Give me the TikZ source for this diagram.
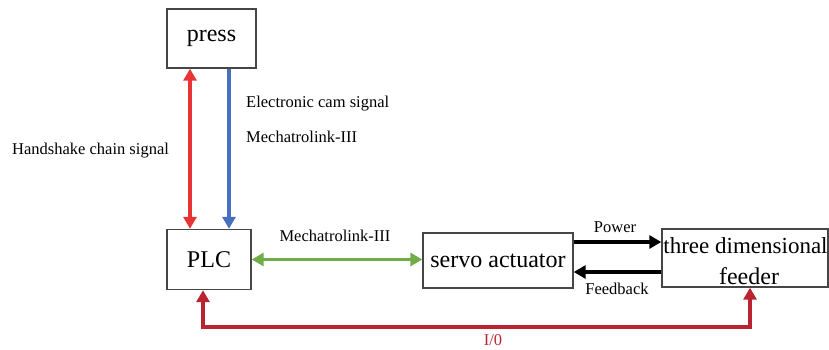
\documentclass[tikz,border=0pt]{standalone}
\usepackage{fontspec}
\setmainfont{Liberation Serif}
\usetikzlibrary{arrows.meta}
\definecolor{hsred}{RGB}{232,52,52}
\definecolor{camblue}{RGB}{72,112,192}
\definecolor{mlgreen}{RGB}{112,172,72}
\definecolor{iored}{RGB}{186,36,48}
\definecolor{boxgray}{RGB}{70,70,70}
\tikzset{
  blk/.style={draw=boxgray,line width=1.4pt,inner sep=0pt,font=\fontsize{24}{28}\selectfont},
  lbl/.style={font=\fontsize{16.5}{19}\selectfont,inner sep=0pt},
  conn/.style={line width=3.6pt,{Triangle[length=12pt,width=13pt]}-{Triangle[length=12pt,width=13pt]}},
  oneway/.style={line width=3.6pt,-{Triangle[length=12pt,width=13pt]}}
}
\begin{document}
\begin{tikzpicture}[x=1pt,y=-1pt]
\useasboundingbox (0,0) rectangle (829,349);
\node[blk,minimum width=89pt,minimum height=59pt] (press) at (211.5,38.5) {press};
\node[blk,minimum width=84pt,minimum height=60pt] (plc) at (209,259.5) {PLC};
\node[blk,minimum width=150pt,minimum height=55pt] (servo) at (498,260.5) {servo actuator};
\node[blk,minimum width=166pt,minimum height=58pt] (feeder) at (745,258) {};
\node[blk,draw=none,font=\fontsize{23}{27}\selectfont] (feedA) at (745.5,246) {three dimensional};
\node[blk,draw=none] (feedB) at (749,276) {feeder};
% press <-> PLC
\draw[conn,hsred] ([xshift=-21.5pt]press.south) -- ([xshift=-21.5pt]press.south |- plc.north);
\draw[oneway,camblue] ([xshift=17.5pt]press.south) -- ([xshift=17.5pt]press.south |- plc.north);
% PLC <-> servo
\draw[conn,mlgreen] (plc.east) -- (plc.east -| servo.west);
% servo <-> feeder
\draw[oneway,black] ([yshift=18.5pt]servo.east) -- ([yshift=18.5pt]servo.east -| feeder.west);
\draw[oneway,black] ([yshift=-11.5pt]servo.east -| feeder.west) -- ([yshift=-11.5pt]servo.east);
% I/O
\coordinate (iob) at (203,327);
\draw[conn,iored] ([xshift=-6pt]plc.south) -- (iob) -| ([xshift=5pt]feeder.south);
% labels
\node[lbl,anchor=west] (hs) at (12,151) {Handshake chain signal};
\node[lbl,anchor=west] (ec) at (246,104) {Electronic cam signal};
\node[lbl,anchor=west] (ml1) at (246,137) {Mechatrolink-III};
\node[lbl] (ml2) at (335,236) {Mechatrolink-III};
\node[lbl] (pw) at (615,227) {Power};
\node[lbl] (fb) at (617,289) {Feedback};
\node[lbl,text=iored] (io) at (493,340) {I/0};
\end{tikzpicture}
\end{document}
